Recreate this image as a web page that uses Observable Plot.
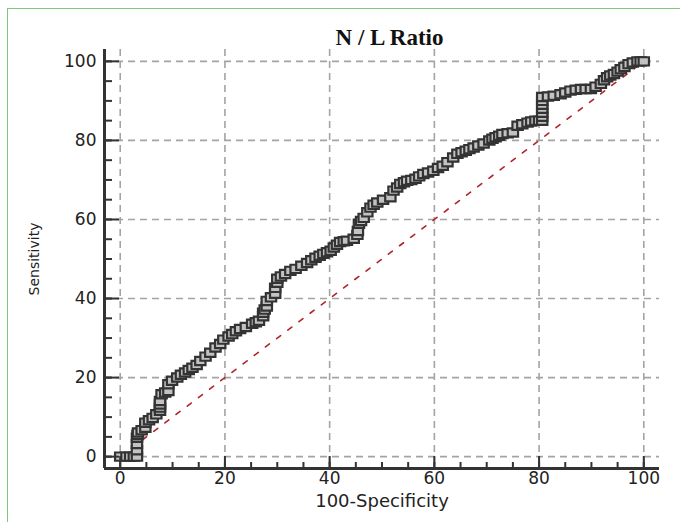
<!DOCTYPE html>
<html><head><meta charset="utf-8">
<script src="https://cdn.jsdelivr.net/npm/d3@7"></script>
<script src="https://cdn.jsdelivr.net/npm/@observablehq/plot@0.6"></script>
<style>
body{margin:0;background:#fff;}
#wrap{position:relative;width:680px;height:522px;overflow:hidden;background:#fff;}
#frame{position:absolute;left:7px;top:8px;right:-2px;bottom:-2px;border-top:1px solid #7cc97c;border-left:1px solid #7cc97c;}
#chart{position:absolute;left:0;top:0;}
</style></head><body>
<div id="wrap"><div id="frame"></div><div id="chart"></div></div>
<script>
// ROC curve values (100-Specificity, Sensitivity)
const specComp = [0,1.2,1.9,2.6,3.2,3.2,3.2,3.2,3.3,3.4,4.1,4.8,4.8,5.5,6.2,6.9,7.6,7.6,7.6,7.6,7.9,8.6,9.2,9.2,9.9,10.9,11.6,12.4,13.1,13.8,14.6,15.3,16.3,17.2,18.2,19.1,19.7,20.7,21.4,22.1,22.9,24,25.2,25.9,26.5,27.3,27.3,27.6,28,28,28.8,29.6,29.6,30,30,30.7,31.5,32.5,33.5,34.6,35.7,36.5,37.3,38.1,38.8,39.5,40.2,40.8,41.4,42,42.7,43.3,44.6,45.3,45.4,45.6,46,46.5,47.2,47.8,48.4,49.1,50.2,51.6,52.2,52.9,53.5,54.2,54.8,55.6,56.4,57.1,57.9,58.8,59.8,60.7,61.6,62.5,63.6,64.4,65.2,66,66.7,67.5,68.4,69.4,70.5,71.1,71.7,72.4,73,74,75,75.9,76.8,77.8,78.5,79.3,80,80.6,80.6,80.6,80.6,80.6,80.6,80.6,81.7,82.8,84.1,85,86,87,88,88.9,89.9,90.8,91.8,92.4,93,93.6,94.3,95,95.6,96.3,97.1,97.9,98.8,99.4,100];
const sensitivity = [0,0,0,0,0,1.6,3.2,4.8,5.5,6.1,6.7,7.3,8.6,9.2,9.8,10.7,11.6,12.4,13.2,14.1,15.8,16.2,16.6,18.3,19.2,20,20.7,21.3,21.9,22.5,23.2,24.2,25.3,26.3,27.6,28.5,29.6,30.4,31,31.7,32.3,32.8,33.6,34,34.4,35.5,36.4,37.2,38,39.4,40.3,41.2,42.7,44,45,45.6,46.2,47,47.5,48.3,49,49.7,50.3,50.8,51.3,51.7,52.1,52.9,53.6,54.3,54.5,54.6,55.1,56.1,57.1,58.9,59.6,60.4,61.8,63,63.7,64.3,65,65.6,67.3,68.1,69,69.4,69.8,70,70.3,70.9,71.5,71.9,72.3,73,73.6,74.5,75.7,76.6,77,77.4,77.8,78.2,78.7,79.2,80,80.4,80.8,81.2,81.6,81.8,82,83.7,84.1,84.5,84.8,85,85,85,86,87,88,89,90,91,91.1,91.3,91.7,92.1,92.6,92.8,93,93,93,93.6,94.3,95.2,96,96.4,96.8,97.4,98,98.6,99.3,99.7,100,100,100];
const diagX = [0, 100];
const diagY = [0, 100];
const majorTicks = [0, 20, 40, 60, 80, 100];
const minorTicks = [0,5,10,15,20,25,30,35,40,45,50,55,60,65,70,75,80,85,90,95,100];
const titleText = "N / L Ratio";
const xLabel = "100-Specificity";
const yLabel = "Sensitivity";

const points = specComp.map((x, i) => ({x, y: sensitivity[i]}));
const diag = diagX.map((x, i) => ({x, y: diagY[i]}));

const W = 680, H = 522, mL = 104, mR = 21, mT = 49, mB = 54;
const frameW = W - mL - mR, frameH = H - mT - mB;

const rectSymbol = {
  draw(ctx, size) {
    const s = Math.sqrt(size), w = s * 1.1, h = s * 0.88;
    ctx.moveTo(-w / 2, -h / 2); ctx.lineTo(w / 2, -h / 2);
    ctx.lineTo(w / 2, h / 2); ctx.lineTo(-w / 2, h / 2); ctx.closePath();
  }
};

const axisColor = "#333";
const chart = Plot.plot({
  width: W, height: H,
  marginLeft: mL, marginRight: mR, marginTop: mT, marginBottom: mB,
  x: {domain: [-3, 103]},
  y: {domain: [-3, 103]},
  style: {fontFamily: "DejaVu Sans", fontSize: "17px", color: "#222", background: "transparent"},
  marks: [
    Plot.ruleX(majorTicks, {stroke: "#a4a4a4", strokeWidth: 1.6, strokeDasharray: "7,5"}),
    Plot.ruleY(majorTicks, {stroke: "#a4a4a4", strokeWidth: 1.6, strokeDasharray: "7,5"}),
    Plot.line(diag, {x: "x", y: "y", stroke: "#b0242a", strokeWidth: 1.6, strokeDasharray: "5,9"}),
    Plot.line(points, {x: "x", y: "y", stroke: "#333", strokeWidth: 2.5}),
    Plot.dot(points, {x: "x", y: "y", symbol: rectSymbol, r: 5.3, fill: "#c2c2c2", stroke: "#333", strokeWidth: 2.2}),
    Plot.tickY(minorTicks, {stroke: axisColor, strokeWidth: 2, insetRight: frameW - 8}),
    Plot.tickY(majorTicks, {stroke: axisColor, strokeWidth: 2, insetRight: frameW - 15}),
    Plot.tickX(minorTicks, {stroke: axisColor, strokeWidth: 2, insetTop: frameH - 6}),
    Plot.tickX(majorTicks, {stroke: axisColor, strokeWidth: 2, insetTop: frameH - 12}),
    Plot.ruleX([-3], {stroke: axisColor, strokeWidth: 3}),
    Plot.ruleY([-3], {stroke: axisColor, strokeWidth: 3}),
    Plot.axisY({ticks: majorTicks, tickSize: 0, tickPadding: 8, label: null}),
    Plot.axisX({ticks: majorTicks, tickSize: 0, tickPadding: 3, label: null}),
    Plot.text([titleText], {frameAnchor: "top", dx: 7.5, dy: -5, lineAnchor: "bottom", fontFamily: "Liberation Serif", fontWeight: "bold", fontSize: 23, fill: "#111"}),
    Plot.text([xLabel], {frameAnchor: "bottom", dy: 38, lineAnchor: "bottom", fontSize: 18, fill: "#222"}),
    Plot.text([yLabel], {frameAnchor: "left", textAnchor: "middle", dx: -69.5, rotate: -90, fontSize: 14, fill: "#222"})
  ]
});
document.getElementById("chart").appendChild(chart);
</script>
</body></html>
